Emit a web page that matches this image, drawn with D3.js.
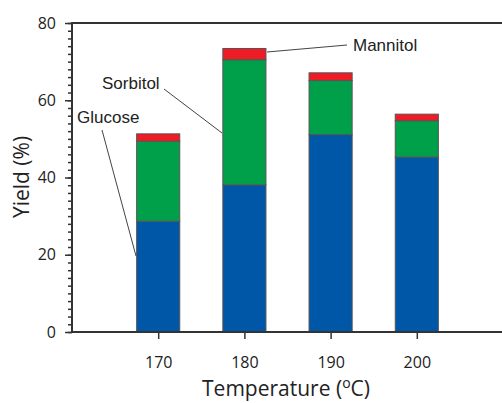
<!DOCTYPE html>
<html><head><meta charset="utf-8">
<script src="https://cdn.jsdelivr.net/npm/d3@7"></script>
<style>body{margin:0;background:#fff}svg{display:block}</style>
</head><body>
<svg id="c" width="502" height="403"></svg>
<script>
const temps = [170, 180, 190, 200];
const glucose = [28.7, 38.1, 51.1, 45.3];
const sorbitol = [20.7, 32.4, 14.0, 9.4];
const mannitol = [1.9, 2.9, 2.0, 1.7];
const seriesNames = ["Glucose", "Sorbitol", "Mannitol"];
const seriesColors = ["#0057a8", "#00a04b", "#ee1c25"];
const yTicks = [0, 20, 40, 60, 80];
const xTicks = [170, 180, 190, 200];

const svg = d3.select("#c");
const x = d3.scaleLinear().domain([160, 210]).range([72, 503]);
const y = d3.scaleLinear().domain([0, 80]).range([332, 23]);
const barW = 5;

const table = temps.map((t, i) => ({t, Glucose: glucose[i], Sorbitol: sorbitol[i], Mannitol: mannitol[i]}));
const stack = d3.stack().keys(seriesNames)(table);

const g = svg.append("g");
stack.forEach((s, si) => {
  g.selectAll(null).data(s).enter().append("rect")
    .attr("x", d => x(d.data.t - barW / 2))
    .attr("width", d => x(d.data.t + barW / 2) - x(d.data.t - barW / 2))
    .attr("y", d => y(d[1]))
    .attr("height", d => y(d[0]) - y(d[1]))
    .attr("fill", seriesColors[si])
    .attr("stroke", "#555")
    .attr("stroke-width", 1);
});

// axes
const axisColor = "#333";
const yAx = svg.append("g").attr("transform", "translate(72,0)")
  .call(d3.axisLeft(y).tickValues(yTicks).tickSize(7).tickPadding(9));
const yMinor = svg.append("g").attr("transform", "translate(72,0)")
  .call(d3.axisLeft(y).tickValues(d3.range(0, 81, 2)).tickSize(4).tickFormat(""));
yMinor.select(".domain").remove();
const xAx = svg.append("g").attr("transform", "translate(0,332)")
  .call(d3.axisBottom(x).tickValues(xTicks).tickSize(7).tickPadding(18).tickFormat(d3.format("d")));
[yAx, yMinor, xAx].forEach(a => {
  a.selectAll("line").attr("stroke", axisColor).attr("stroke-width", 1.5);
  a.selectAll(".domain").attr("stroke", axisColor).attr("stroke-width", 2);
  a.selectAll("text").attr("font-family", "'Open Sans', sans-serif").attr("font-size", 16).attr("fill", "#222");
});
xAx.select(".domain").attr("d", "M72,0H503");
yAx.select(".domain").attr("d", "M0,23V332");
// top frame
svg.append("line").attr("x1", 71).attr("x2", 503).attr("y1", y(80)).attr("y2", y(80))
  .attr("stroke", axisColor).attr("stroke-width", 2);

// titles
svg.append("text").attr("transform", "translate(29,177) rotate(-90)")
  .attr("text-anchor", "middle").attr("font-family", "'Open Sans', sans-serif")
  .attr("font-size", 21).attr("fill", "#222").text("Yield (%)");
const xt = svg.append("text").attr("x", 286).attr("y", 396)
  .attr("text-anchor", "middle").attr("font-family", "'Open Sans', sans-serif")
  .attr("font-size", 21).attr("fill", "#222");
xt.append("tspan").text("Temperature (");
xt.append("tspan").attr("dy", -8).attr("font-size", 14).text("o");
xt.append("tspan").attr("dy", 8).text("C)");

// annotations
const ann = [
  {label: "Glucose", tx: 77, ty: 123, line: [[102, 130], [136, 256]]},
  {label: "Sorbitol", tx: 102, ty: 89, line: [[164, 89], [222, 133]]},
  {label: "Mannitol", tx: 353, ty: 51, line: [[347, 45], [267, 52]]}
];
ann.forEach(a => {
  svg.append("text").attr("x", a.tx).attr("y", a.ty)
    .attr("font-family", "'Liberation Sans', Arial, sans-serif").attr("font-size", 17)
    .attr("fill", "#222").text(a.label);
  svg.append("line").attr("x1", a.line[0][0]).attr("y1", a.line[0][1])
    .attr("x2", a.line[1][0]).attr("y2", a.line[1][1])
    .attr("stroke", "#444").attr("stroke-width", 1);
});
</script>
</body></html>
